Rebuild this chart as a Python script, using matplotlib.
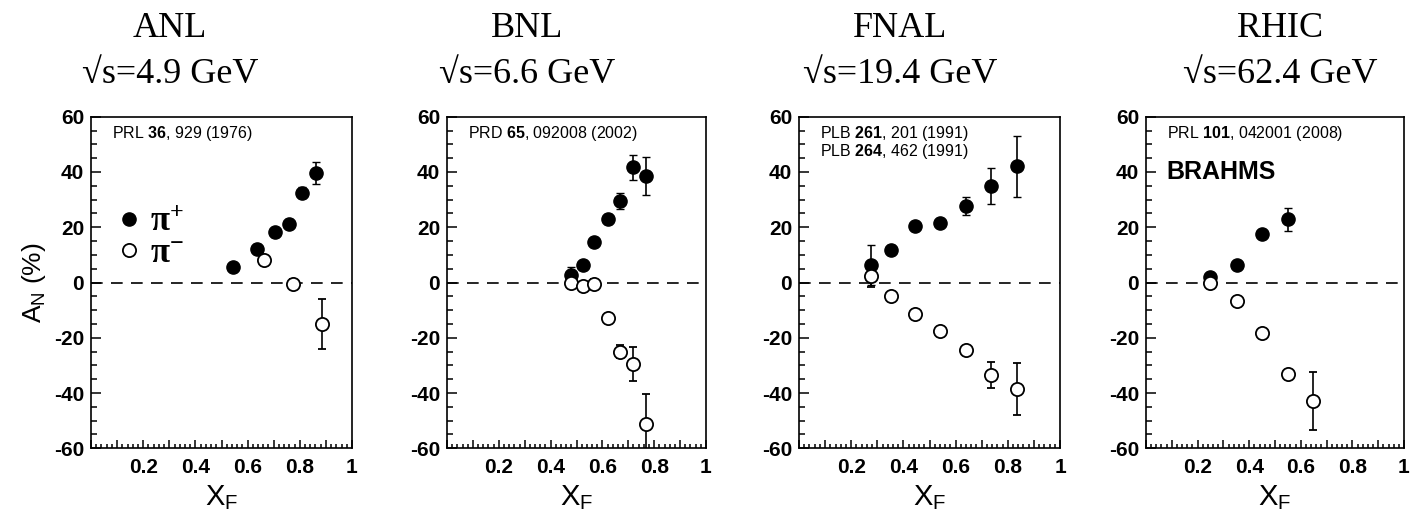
import matplotlib
matplotlib.use("Agg")
import matplotlib.pyplot as plt
from matplotlib.ticker import MultipleLocator, FuncFormatter
from matplotlib.lines import Line2D

# ---------------- data ----------------
titles = ["ANL", "BNL", "FNAL", "RHIC"]
energies = ["\u221as=4.9 GeV", "\u221as=6.6 GeV", "\u221as=19.4 GeV", "\u221as=62.4 GeV"]
refs = [
    [("PRL ", "36", ", 929 (1976)")],
    [("PRD ", "65", ", 092008 (2002)")],
    [("PLB ", "261", ", 201 (1991)"), ("PLB ", "264", ", 462 (1991)")],
    [("PRL ", "101", ", 042001 (2008)")],
]

anl_pip_x = [0.545, 0.637, 0.705, 0.758, 0.809, 0.863]
anl_pip_y = [5.7, 12.3, 18.1, 21.3, 32.5, 39.5]
anl_pip_e = [1.5, 1.5, 1.5, 1.5, 2.0, 4.0]
anl_pim_x = [0.663, 0.773, 0.885]
anl_pim_y = [8.1, -0.4, -15.0]
anl_pim_e = [1.5, 1.5, 9.0]

bnl_pip_x = [0.478, 0.527, 0.569, 0.620, 0.668, 0.720, 0.768]
bnl_pip_y = [2.7, 6.3, 14.7, 22.9, 29.5, 41.7, 38.5]
bnl_pip_e = [2.8, 1.5, 1.5, 1.8, 3.0, 4.5, 6.8]
bnl_pim_x = [0.478, 0.527, 0.569, 0.620, 0.668, 0.720, 0.768]
bnl_pim_y = [0.0, -1.2, -0.4, -13.0, -25.0, -29.6, -51.2]
bnl_pim_e = [1.5, 1.5, 1.5, 1.5, 2.5, 6.2, 11.0]

fnal_pip_x = [0.275, 0.352, 0.446, 0.541, 0.638, 0.735, 0.834]
fnal_pip_y = [6.3, 11.9, 20.4, 21.6, 27.7, 34.9, 42.0]
fnal_pip_e = [7.2, 1.5, 1.5, 1.5, 3.2, 6.6, 11.0]
fnal_pim_x = [0.275, 0.352, 0.446, 0.541, 0.638, 0.735, 0.834]
fnal_pim_y = [2.3, -4.9, -11.4, -17.5, -24.5, -33.5, -38.6]
fnal_pim_e = [4.0, 1.5, 1.5, 1.5, 1.5, 4.6, 9.5]

rhic_pip_x = [0.249, 0.351, 0.451, 0.549]
rhic_pip_y = [2.0, 6.3, 17.5, 22.8]
rhic_pip_e = [1.5, 1.5, 1.5, 4.2]
rhic_pim_x = [0.249, 0.351, 0.451, 0.549, 0.649]
rhic_pim_y = [0.0, -6.6, -18.4, -33.1, -42.9]
rhic_pim_e = [1.5, 1.5, 1.5, 1.5, 10.5]

pos_sets = [(anl_pip_x, anl_pip_y, anl_pip_e), (bnl_pip_x, bnl_pip_y, bnl_pip_e),
            (fnal_pip_x, fnal_pip_y, fnal_pip_e), (rhic_pip_x, rhic_pip_y, rhic_pip_e)]
neg_sets = [(anl_pim_x, anl_pim_y, anl_pim_e), (bnl_pim_x, bnl_pim_y, bnl_pim_e),
            (fnal_pim_x, fnal_pim_y, fnal_pim_e), (rhic_pim_x, rhic_pim_y, rhic_pim_e)]

# ---------------- style ----------------
SANS_NARROW = ["Liberation Sans Narrow", "Liberation Sans", "DejaVu Sans"]
SANS = ["Liberation Sans", "DejaVu Sans"]
SERIF = ["Liberation Serif", "DejaVu Serif"]

plt.rcParams["font.family"] = SANS_NARROW
plt.rcParams["font.weight"] = "bold"
plt.rcParams["mathtext.fontset"] = "custom"
plt.rcParams["mathtext.rm"] = "Liberation Serif"
plt.rcParams["mathtext.it"] = "Liberation Serif:italic"
plt.rcParams["mathtext.bf"] = "Liberation Sans:bold"
plt.rcParams["axes.linewidth"] = 1.2

W, H = 1410, 521
fig = plt.figure(figsize=(W / 100, H / 100), dpi=100)

panel_left = [91, 447, 799, 1146]
panel_width = [261, 259, 261, 258]
top_px, bot_px = 116.7, 448.3
title_x = [170, 527, 900, 1280]


def xfmt(v, _):
    k = int(round(v * 10))
    if k <= 0 or k % 2:
        return ""
    return "1" if k == 10 else f"{v:.1f}"


def yfmt(v, _):
    return f"{int(round(v))}".replace("\u2212", "-")


for i in range(4):
    ax = fig.add_axes([panel_left[i] / W, 1 - bot_px / H,
                       panel_width[i] / W, (bot_px - top_px) / H])
    ax.set_xlim(0, 1)
    ax.set_ylim(-60, 60)

    ax.axhline(0, color="black", lw=1.2, ls=(0, (7, 5)), zorder=1)

    px, py, pe = pos_sets[i]
    nx, ny, ne = neg_sets[i]
    ax.errorbar(nx, ny, yerr=ne, fmt="o", ms=9.5, mfc="white", mec="black",
                mew=1.3, ecolor="black", elinewidth=1.2, capsize=3.2,
                capthick=1.2, zorder=3)
    ax.errorbar(px, py, yerr=pe, fmt="o", ms=9.5, mfc="black", mec="black",
                mew=1.0, ecolor="black", elinewidth=1.2, capsize=3.2,
                capthick=1.2, zorder=2)

    ax.xaxis.set_major_locator(MultipleLocator(0.1))
    ax.xaxis.set_minor_locator(MultipleLocator(0.02))
    ax.xaxis.set_major_formatter(FuncFormatter(xfmt))
    ax.yaxis.set_major_locator(MultipleLocator(20))
    ax.yaxis.set_minor_locator(MultipleLocator(5))
    ax.yaxis.set_major_formatter(FuncFormatter(yfmt))
    ax.tick_params(which="both", direction="in", top=False, right=False,
                   width=1.1, labelsize=15)
    ax.tick_params(axis="x", which="major", length=6, pad=7)
    ax.tick_params(axis="x", which="minor", length=3)
    ax.tick_params(axis="y", which="major", length=7, pad=5)
    ax.tick_params(axis="y", which="minor", length=4)

    ax.set_xlabel(r"$\mathregular{X_F}$", family=SANS, fontweight="normal",
                  fontsize=21, labelpad=4.5)
    if i == 0:
        ax.set_ylabel(r"$\mathregular{A_N}$ (%)", family=SANS,
                      fontweight="normal", fontsize=19, labelpad=4)

    # publication references
    for j, (a, b, c) in enumerate(refs[i]):
        ax.text(0.08, 54 - 6.5 * j,
                a + r"$\mathbf{" + b + "}$" + c,
                family=SANS, fontweight="normal", fontsize=11.5,
                va="center", ha="left")
    if i == 3:
        ax.text(0.08, 40, "BRAHMS", family=SANS, fontweight="bold",
                fontsize=18, va="center", ha="left")

    if i == 0:
        handles = [
            Line2D([], [], ls="none", marker="o", ms=9.5, mfc="black", mec="black"),
            Line2D([], [], ls="none", marker="o", ms=9.5, mfc="white", mec="black",
                   mew=1.3),
        ]
        ax.legend(handles, [r"$\mathrm{\pi}^{+}$", r"$\mathrm{\pi}^{-}$"],
                  loc="center left", bbox_to_anchor=(0.105, 0.634),
                  frameon=False,
                  prop={"family": SERIF, "size": 25, "weight": "normal"},
                  handlelength=0.6, handletextpad=0.3, labelspacing=-0.05,
                  borderpad=0, borderaxespad=0)

    fig.text(title_x[i] / W, 1 - 37 / H, titles[i], family=SERIF,
             fontweight="normal", fontsize=26, ha="center", va="baseline")
    fig.text(title_x[i] / W, 1 - 83 / H, energies[i], family=SERIF,
             fontweight="normal", fontsize=26, ha="center", va="baseline")

fig.savefig("out.png", dpi=100, facecolor="white")
